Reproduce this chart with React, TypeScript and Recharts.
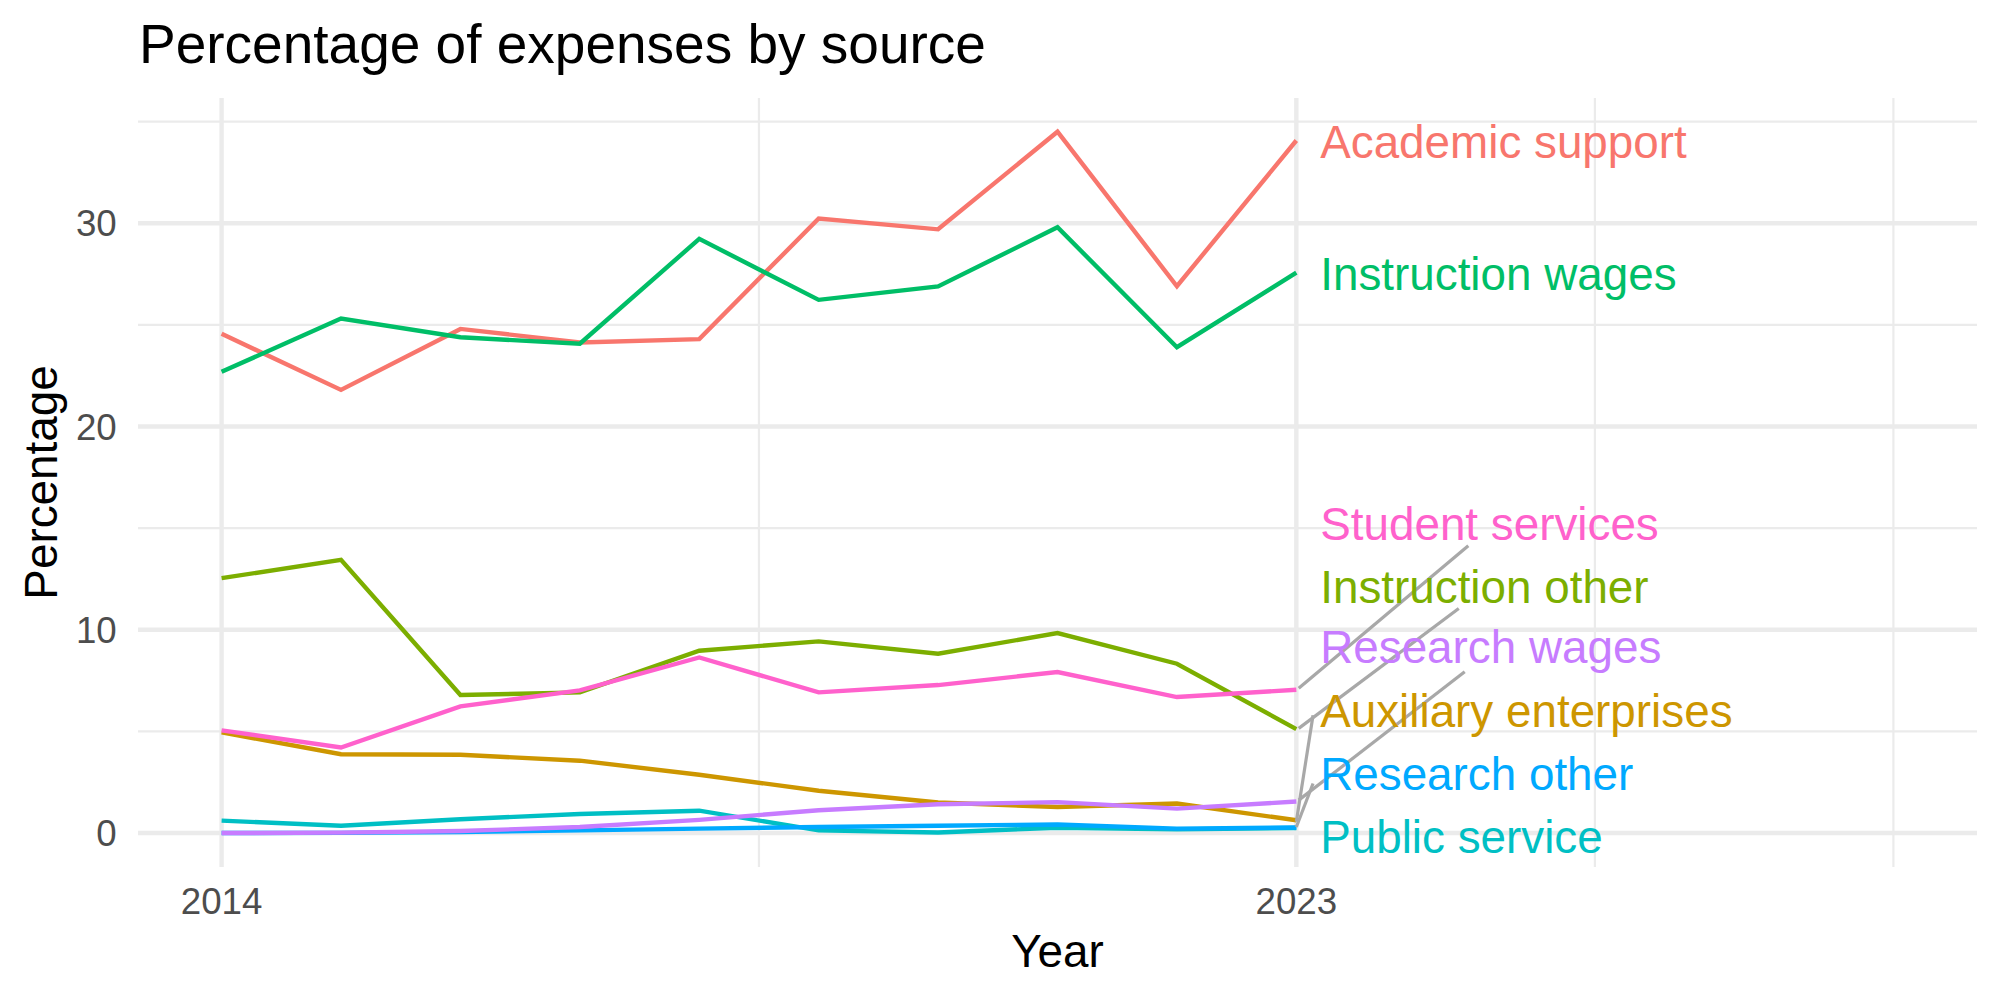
import { LineChart, Line, XAxis, YAxis, CartesianGrid, ReferenceLine, ReferenceDot } from "recharts";

const years = [2014, 2015, 2016, 2017, 2018, 2019, 2020, 2021, 2022, 2023];

// Share of total expenses (%) per source and year
const academicSupport = [24.56, 21.8, 24.8, 24.13, 24.3, 30.23, 29.7, 34.5, 26.9, 34.07];
const auxiliaryEnterprises = [4.95, 3.88, 3.85, 3.56, 2.87, 2.08, 1.5, 1.28, 1.45, 0.63];
const instructionOther = [12.54, 13.44, 6.79, 6.92, 8.97, 9.43, 8.82, 9.84, 8.33, 5.11];
const instructionWages = [22.69, 25.31, 24.39, 24.07, 29.23, 26.23, 26.89, 29.8, 23.9, 27.57];
const publicService = [0.61, 0.36, 0.68, 0.94, 1.1, 0.13, 0.03, 0.26, 0.18, 0.25];
const researchOther = [0.0, 0.01, 0.05, 0.13, 0.22, 0.3, 0.36, 0.42, 0.22, 0.27];
const researchWages = [0.0, 0.02, 0.1, 0.3, 0.65, 1.12, 1.42, 1.52, 1.2, 1.55];
const studentServices = [5.05, 4.21, 6.23, 7.02, 8.64, 6.92, 7.28, 7.92, 6.69, 7.05];

const xTicks = [2014, 2023];
const yTicks = [0, 10, 20, 30];
const xMinor = [2018.5, 2025.5, 2028];
const yMinor = [5, 15, 25, 35];

// end labels, nudged apart so they don't overlap
const labelYear = 2023.2;
const labelNames = [
  "Academic support",
  "Instruction wages",
  "Student services",
  "Instruction other",
  "Research wages",
  "Auxiliary enterprises",
  "Research other",
  "Public service",
];
const labelValues = [34.04, 27.55, 15.22, 12.14, 9.16, 6.04, 2.93, -0.16];

// leader lines from the last point to a moved label
const leaderFrom = [
  { x: 2023.02, y: 7.12 },
  { x: 2023.02, y: 5.15 },
  { x: 2023.02, y: 1.62 },
  { x: 2023.0, y: 0.56 },
  { x: 2023.0, y: 0.3 },
];
const leaderTo = [
  { x: 2024.44, y: 14.13 },
  { x: 2024.36, y: 11.05 },
  { x: 2024.41, y: 7.93 },
  { x: 2023.14, y: 5.8 },
  { x: 2023.14, y: 2.44 },
];

const series = [
  { key: "academicSupport", name: "Academic support", color: "#F8766D", values: academicSupport },
  { key: "auxiliaryEnterprises", name: "Auxiliary enterprises", color: "#CD9600", values: auxiliaryEnterprises },
  { key: "instructionOther", name: "Instruction other", color: "#7CAE00", values: instructionOther },
  { key: "instructionWages", name: "Instruction wages", color: "#00BE67", values: instructionWages },
  { key: "publicService", name: "Public service", color: "#00BFC4", values: publicService },
  { key: "researchOther", name: "Research other", color: "#00A9FF", values: researchOther },
  { key: "researchWages", name: "Research wages", color: "#C77CFF", values: researchWages },
  { key: "studentServices", name: "Student services", color: "#FF61CC", values: studentServices },
];

const data = years.map((year, i) => {
  const row: Record<string, number> = { year };
  series.forEach((s) => {
    row[s.key] = s.values[i];
  });
  return row;
});

const colorOf = (name: string) => series.find((s) => s.name === name)?.color ?? "#000";

const FONT = "'Liberation Sans', Arial, Helvetica, sans-serif";
const tickStyle = { fill: "#4D4D4D", fontSize: 36.7, fontFamily: FONT };
const minorLine = { stroke: "#EBEBEB", strokeWidth: 2.2 };
const majorLine = { stroke: "#EBEBEB", strokeWidth: 4.4 };

export default function App() {
  return (
    <div
      style={{
        position: "absolute",
        left: 0,
        top: 0,
        width: 2000,
        height: 1000,
        background: "#fff",
        fontFamily: FONT,
      }}
    >
      <LineChart
        width={2000}
        height={1000}
        data={data}
        margin={{ top: 98, right: 23, bottom: 73, left: 78 }}
      >
        <CartesianGrid
          {...minorLine}
          horizontal={minorLine}
          vertical={minorLine}
          horizontalValues={yMinor}
          verticalValues={xMinor}
        />
        <CartesianGrid
          {...majorLine}
          horizontal={majorLine}
          vertical={majorLine}
          horizontalValues={yTicks}
          verticalValues={xTicks}
        />
        <XAxis
          dataKey="year"
          type="number"
          domain={[2013.3, 2028.7]}
          allowDataOverflow
          ticks={xTicks}
          height={60}
          axisLine={false}
          tickLine={false}
          tickSize={0}
          tickMargin={21}
          tick={tickStyle}
        />
        <YAxis
          type="number"
          domain={[-1.67, 36.16]}
          allowDataOverflow
          ticks={yTicks}
          width={60}
          axisLine={false}
          tickLine={false}
          tickSize={0}
          tickMargin={21.3}
          tick={tickStyle}
        />
        {series.map((s) => (
          <Line
            key={s.key}
            type="linear"
            dataKey={s.key}
            name={s.name}
            stroke={s.color}
            strokeWidth={4.4}
            dot={false}
            activeDot={false}
            isAnimationActive={false}
          />
        ))}
        {leaderFrom.map((p, i) => (
          <ReferenceLine
            key={`seg-${i}`}
            segment={[p, leaderTo[i]]}
            stroke="#A8A8A8"
            strokeWidth={3.2}
          />
        ))}
        {labelNames.map((name, i) => (
          <ReferenceDot
            key={name}
            x={labelYear}
            y={labelValues[i]}
            r={0}
            shape={(p: any) => (
              <text
                x={p.cx}
                y={p.cy}
                dy="0.36em"
                fill={colorOf(name)}
                fontSize={45.8}
                fontFamily={FONT}
              >
                {name}
              </text>
            )}
          />
        ))}
      </LineChart>
      <svg
        width={2000}
        height={1000}
        style={{ position: "absolute", left: 0, top: 0, pointerEvents: "none" }}
      >
        <text x={139} y={62.7} fontSize={55} fill="#000" fontFamily={FONT}>
          Percentage of expenses by source
        </text>
        <text x={1057.5} y={967} fontSize={45.8} fill="#000" textAnchor="middle" fontFamily={FONT}>
          Year
        </text>
        <text
          transform="translate(56.7,482.5) rotate(-90)"
          fontSize={45.8}
          fill="#000"
          textAnchor="middle"
          fontFamily={FONT}
        >
          Percentage
        </text>
      </svg>
    </div>
  );
}
